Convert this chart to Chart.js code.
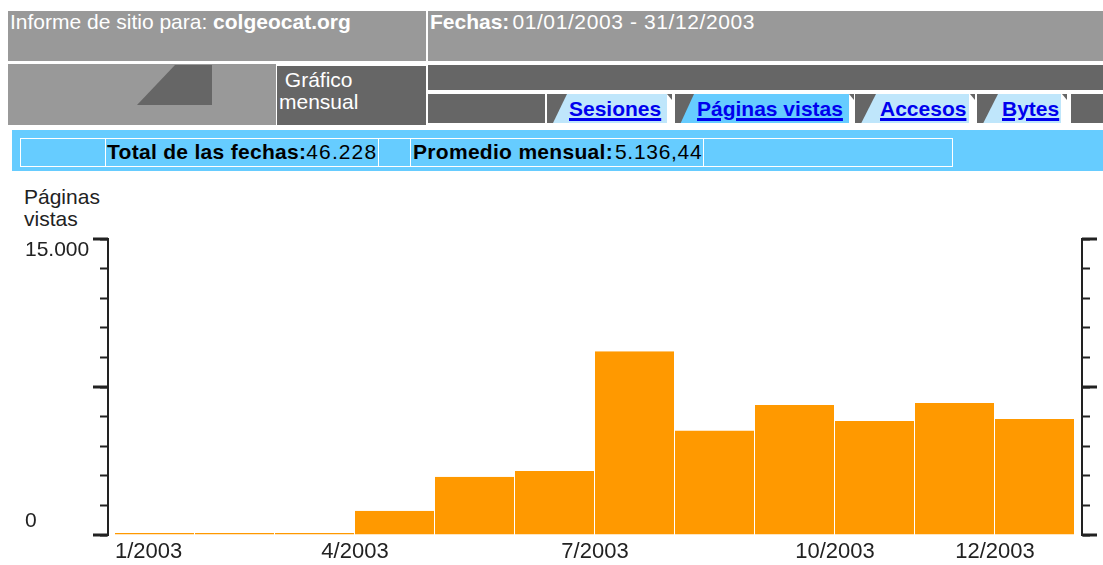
<!DOCTYPE html>
<html>
<head>
<meta charset="utf-8">
<script src="https://cdn.jsdelivr.net/npm/chart.js@4.4.1/dist/chart.umd.min.js"></script>
<style>
  html, body { margin:0; padding:0; background:#fff; width:1103px; height:565px; overflow:hidden;
    font-family:'Liberation Sans', Arial, sans-serif; }
  .abs { position:absolute; box-sizing:border-box; }
  .hdr { background:#999999; color:#fff; font-size:21px; line-height:22px; padding-left:2px; white-space:nowrap; }
  .dark { background:#666666; }
  .tabbg { background:#bfe6fb; }
  .tabsel { background:#66ccff; }
  .tab a { color:#0000ee; font-weight:bold; font-size:21px; text-decoration:underline; text-decoration-thickness:3px; text-underline-offset:2px; }
  .corner { overflow:hidden; }
  .corner::before { content:''; position:absolute; left:0; top:0; width:100%; height:100%; background:#666666;
    clip-path: polygon(0 0, 100% 0, 30% 100%, 0 100%); }
  .mark::before { content:''; position:absolute; left:0; top:0; width:5px; height:6px; background:#666666;
    clip-path: polygon(0 0, 100% 0, 100% 100%); }
  .cell { border:1px solid #fff; font-size:21px; line-height:26px; color:#000; white-space:nowrap; overflow:hidden; }
  .cell b { letter-spacing:0.3px; }
  .num { letter-spacing:1.1px; }
  .num2 { letter-spacing:0.7px; margin-left:2px; }
  .date { letter-spacing:0.6px; margin-left:3px; }
  #ytitle { font-size:21px; line-height:22px; color:#222; }
</style>
</head>
<body>
<!-- Row 1 -->
<div class="abs hdr" style="left:8px;top:11px;width:418px;height:50px;">Informe de sitio para: <b>colgeocat.org</b></div>
<div class="abs hdr" style="left:428px;top:11px;width:675px;height:50px;"><b>Fechas:</b><span class="date">01/01/2003 - 31/12/2003</span></div>
<!-- Row 2 -->
<div class="abs hdr" style="left:8px;top:64px;width:268px;height:61px;"></div>
<div class="abs dark" style="left:137px;top:65px;width:75px;height:40px;clip-path:polygon(38px 0,75px 0,75px 40px,0 40px);"></div>
<div class="abs dark" style="left:277px;top:66px;width:149px;height:59px;color:#fff;font-size:21px;line-height:22px;padding-top:3px;padding-left:2px;">&nbsp;Gráfico<br>mensual</div>
<div class="abs dark" style="left:428px;top:65px;width:675px;height:25px;"></div>
<!-- tabs -->
<div class="abs dark" style="left:428px;top:94px;width:117px;height:29px;"></div>
<div class="abs tabbg corner" style="left:547px;top:94px;width:20px;height:29px;"></div>
<div class="abs tabbg tab" style="left:567px;top:94px;width:100px;height:29px;line-height:29px;padding-left:2px;"><a>Sesiones</a></div>
<div class="abs mark" style="left:667px;top:94px;width:6px;height:29px;"></div>
<div class="abs tabsel corner" style="left:675px;top:94px;width:19px;height:29px;"></div>
<div class="abs tabsel tab" style="left:694px;top:94px;width:155px;height:29px;line-height:29px;padding-left:3px;"><a>Páginas vistas</a></div>
<div class="abs mark" style="left:849px;top:94px;width:6px;height:29px;"></div>
<div class="abs tabbg corner" style="left:855px;top:94px;width:21px;height:29px;"></div>
<div class="abs tabbg tab" style="left:876px;top:94px;width:93px;height:29px;line-height:29px;padding-left:4px;"><a>Accesos</a></div>
<div class="abs mark" style="left:970px;top:94px;width:6px;height:29px;"></div>
<div class="abs tabbg corner" style="left:977px;top:94px;width:21px;height:29px;"></div>
<div class="abs tabbg tab" style="left:998px;top:94px;width:63px;height:29px;line-height:29px;padding-left:4px;"><a>Bytes</a></div>
<div class="abs mark" style="left:1062px;top:94px;width:7px;height:29px;"></div>
<div class="abs dark" style="left:1071px;top:94px;width:32px;height:29px;"></div>
<!-- Row 3 blue band -->
<div class="abs" style="left:12px;top:130px;width:1091px;height:41px;background:#66ccff;"></div>
<div class="abs cell" style="left:20px;top:138px;width:86px;height:29px;"></div>
<div class="abs cell" style="left:105px;top:138px;width:274px;height:29px;padding-left:1px;"><b>Total de las fechas:</b><span class="num">46.228</span></div>
<div class="abs cell" style="left:378px;top:138px;width:33px;height:29px;"></div>
<div class="abs cell" style="left:410px;top:138px;width:294px;height:29px;padding-left:2px;"><b>Promedio mensual:</b><span class="num2">5.136,44</span></div>
<div class="abs cell" style="left:703px;top:138px;width:250px;height:29px;"></div>
<!-- chart -->
<div id="ytitle" class="abs" style="left:24px;top:186px;">Páginas<br>vistas</div>
<canvas id="c" class="abs" width="1103" height="385" style="left:0;top:180px;width:1103px;height:385px;"></canvas>
<script>
// ---- data ----
const months = ['1/2003','2/2003','3/2003','4/2003','5/2003','6/2003','7/2003','8/2003','9/2003','10/2003','11/2003','12/2003'];
const pageViews = [100, 100, 100, 1230, 2950, 3240, 9310, 5290, 6590, 5780, 6690, 5880];
const xTickIndex = [0, 3, 6, 9, 11, 12];
const xTickLabels = ['1/2003', '4/2003', '7/2003', '10/2003', '12/2003', ''];
const yTickValues = [0, 15000];
const yTickLabels = ['0', '15.000'];
const yMajorValues = [0, 7500, 15000];

const FONT = "'Liberation Sans', Arial, sans-serif";
const AXIS = '#222';

const majorTicks = {
  id: 'majorTicks',
  afterDraw(chart) {
    const ctx = chart.ctx;
    ctx.save();
    ctx.strokeStyle = AXIS;
    ctx.lineWidth = 3;
    ['y', 'y2'].forEach(id => {
      const s = chart.scales[id];
      const edge = id === 'y' ? s.right : s.left;
      const dir = id === 'y' ? -1 : 1;
      yMajorValues.forEach(v => {
        const py = s.getPixelForValue(v);
        ctx.beginPath();
        ctx.moveTo(edge, py);
        ctx.lineTo(edge + dir * 15, py);
        ctx.stroke();
      });
    });
    const s = chart.scales.y;
    ctx.fillStyle = AXIS;
    ctx.font = '21px ' + FONT;
    ctx.textAlign = 'left';
    yTickValues.forEach((v, i) => {
      const py = s.getPixelForValue(v);
      if (v === s.max) { ctx.textBaseline = 'top'; ctx.fillText(yTickLabels[i], 25, py + 1); }
      else { ctx.textBaseline = 'bottom'; ctx.fillText(yTickLabels[i], 25, py - 3); }
    });
    ctx.restore();
  }
};

new Chart(document.getElementById('c'), {
  type: 'bar',
  data: {
    datasets: [{
      data: pageViews.map((v, i) => ({ x: i + 0.5, y: v })),
      backgroundColor: '#ff9900',
      borderColor: '#ffffff',
      borderWidth: { left: 0, right: 1, top: 0, bottom: 0 },
      borderSkipped: false,
      inflateAmount: 0,
      categoryPercentage: 1,
      barPercentage: 1
    }]
  },
  options: {
    responsive: false,
    animation: false,
    events: [],
    layout: { padding: { top: 59, left: 0, right: 0, bottom: 0 } },
    plugins: { legend: { display: false }, tooltip: { enabled: false }, title: { display: false } },
    scales: {
      x: {
        type: 'linear',
        offset: false,
        bounds: 'data',
        min: -0.0875,
        max: 12.0875,
        grid: { display: false, drawTicks: false, offset: false },
        border: { display: false },
        afterBuildTicks: (scale) => { scale.ticks = xTickIndex.map(v => ({ value: v })); },
        afterFit: (scale) => { scale.height = 30; },
        ticks: {
          autoSkip: false,
          maxRotation: 0,
          align: 'inner',
          padding: 4,
          color: AXIS,
          font: { family: FONT, size: 22 },
          callback: (value) => { const k = xTickIndex.indexOf(value); return k >= 0 ? xTickLabels[k] : ''; }
        }
      },
      y: {
        position: 'left',
        min: 0, max: 15000,
        ticks: { stepSize: 1500, display: false },
        grid: { drawOnChartArea: false, drawTicks: true, tickLength: 8, tickWidth: 2, tickColor: AXIS },
        border: { display: true, color: AXIS, width: 2 },
        afterFit: (scale) => { scale.width = 108; }
      },
      y2: {
        position: 'right',
        min: 0, max: 15000,
        ticks: { stepSize: 1500, display: false },
        grid: { drawOnChartArea: false, drawTicks: true, tickLength: 8, tickWidth: 2, tickColor: AXIS },
        border: { display: true, color: AXIS, width: 2 },
        afterFit: (scale) => { scale.width = 21; }
      }
    }
  },
  plugins: [majorTicks]
});
</script>
</body>
</html>
